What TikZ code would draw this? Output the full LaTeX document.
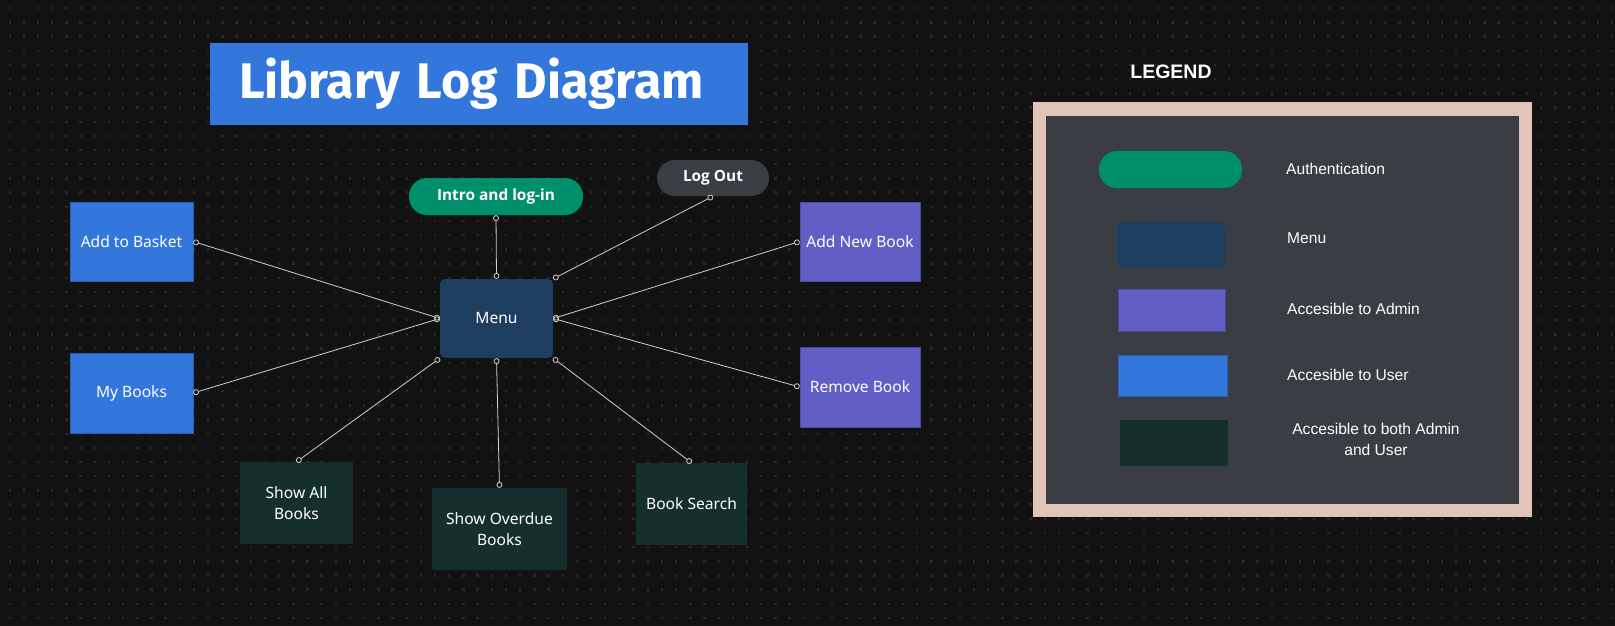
\documentclass[tikz,border=0pt]{standalone}
\usepackage{fontspec}
\setmainfont{Noto Sans}
\newfontfamily\titlefont{Fira Sans}
\newfontfamily\pillfont{Open Sans}
\newfontfamily\legendfont{Liberation Sans}
\usetikzlibrary{arrows}

\definecolor{canvas}{RGB}{18,18,18}
\definecolor{griddot}{RGB}{40,40,40}
\definecolor{userblue}{RGB}{51,118,220}
\definecolor{adminpurple}{RGB}{97,94,198}
\definecolor{bothgreen}{RGB}{21,48,44}
\definecolor{menublue}{RGB}{30,62,95}
\definecolor{authgreen}{RGB}{0,143,107}
\definecolor{slate}{RGB}{59,61,69}
\definecolor{frame}{RGB}{224,196,184}
\definecolor{wire}{RGB}{208,208,208}

\tikzset{
  box/.style={
    % The shape:
    shape=rectangle,inner sep=0pt,
    % The text:
    text=white,align=center,
    font=\fontsize{15.6}{21}\selectfont
  },
  boxsize/.style 2 args={minimum width=#1,minimum height=#2}}
\tikzset{
  userbox/.style={box,fill=userblue,draw=userblue!80!black,line width=0.6pt},
  adminbox/.style={box,fill=adminpurple,draw=adminpurple!80!black,line width=0.6pt},
  bothbox/.style={box,fill=bothgreen},
  menubox/.style={box,fill=menublue,rounded corners=5pt},
  pill/.style={
    % The shape:
    box,rounded corners=18pt,
    % The text:
    font=\pillfont\bfseries\fontsize{15.4}{21}\selectfont}}
\tikzset{
  keytext/.style={text=white,inner sep=0pt,align=center,
    font=\legendfont\fontsize{15.6}{21}\selectfont},
  link/.style={o-o,draw=wire,line width=0.8pt}}

\begin{document}
\begin{tikzpicture}[x=1pt,y=-1pt]
	\useasboundingbox[fill=canvas] (0,0) rectangle (1615,626);
	% Dotted canvas
	\foreach \i in {0,...,113}
		\foreach \j in {0,...,43}
			\fill[griddot] (8.5+14.18*\i,7.1+14.18*\j) rectangle ++(2.4,2.4);
	% Title
	\node[box,fill=userblue,boxsize={538pt}{82pt},text width=480pt,align=left,
		font=\titlefont\bfseries\fontsize{50}{60}\selectfont] (title) at (479,84) {Library Log Diagram};
	% Authentication
	\node[pill,fill=authgreen,boxsize={174pt}{37pt}] (intro) at (496,196.5) {Intro and log-in};
	\node[pill,fill=slate,boxsize={112pt}{36pt}] (logout) at (713,178) {Log Out};
	% Menu
	\node[menubox,boxsize={113pt}{79pt}] (menu) at (496.5,318.5) {Menu};
	% User
	\node[userbox,boxsize={123pt}{79pt}] (basket) at (131.5,241.5) {Add to Basket};
	\node[userbox,boxsize={123pt}{80pt}] (mybooks) at (131.5,393) {My Books};
	% Admin
	\node[adminbox,boxsize={120pt}{79pt}] (addbook) at (860,241.5) {Add New Book};
	\node[adminbox,boxsize={120pt}{80pt}] (removebook) at (860,387) {Remove Book};
	% Admin and user
	\node[bothbox,boxsize={113pt}{82pt}] (showall) at (296.5,503) {Show All\\Books};
	\node[bothbox,boxsize={135pt}{82pt}] (overdue) at (499.5,529) {Show Overdue\\Books};
	\node[bothbox,boxsize={111pt}{82pt}] (search) at (691.5,504) {Book Search};
	% Lines into menu
	\draw[link] (intro.south) -- (menu.north);
	\draw[link] (logout.south) -- (menu.north east);
	\draw[link] (basket.east) -- (menu.west);
	\draw[link] (mybooks.east) -- (menu.west);
	\draw[link] (addbook.west) -- (menu.east);
	\draw[link] (removebook.west) -- (menu.east);
	% Lines out of menu
	\draw[link] (menu.south west) -- (showall.north);
	\draw[link] (menu.south) -- (overdue.north);
	\draw[link] (menu.south east) -- (search.north);
	% Legend
	\node[text=white,inner sep=0pt,font=\legendfont\bfseries\fontsize{19.5}{22}\selectfont] (legendhead) at (1171,72) {LEGEND};
	\node[fill=frame,minimum width=499pt,minimum height=415pt,inner sep=0pt] (legend) at (1282.5,309.5) {};
	\node[fill=slate,minimum width=473pt,minimum height=388pt,inner sep=0pt] (legendin) at (legend) {};
	\node[pill,fill=authgreen,boxsize={143pt}{37pt}] (authkey) at (1170.5,169.5) {};
	\node[menubox,boxsize={108pt}{46pt}] (menukey) at (1171,245) {};
	\node[adminbox,boxsize={107pt}{42pt}] (adminkey) at (1171.5,310) {};
	\node[userbox,boxsize={109pt}{41pt}] (userkey) at (1172.5,375.5) {};
	\node[bothbox,boxsize={108pt}{46pt}] (bothkey) at (1174,443) {};
	\node[keytext,anchor=west] (authlabel) at (1286,169) {Authentication};
	\node[keytext,anchor=west] (menulabel) at (1287,238) {Menu};
	\node[keytext,anchor=west] (adminlabel) at (1287,309) {Accesible to Admin};
	\node[keytext,anchor=west] (userlabel) at (1287,375) {Accesible to User};
	\node[keytext] (bothlabel) at (1376,439.5) {Accesible to both Admin\\and User};
\end{tikzpicture}
\end{document}
